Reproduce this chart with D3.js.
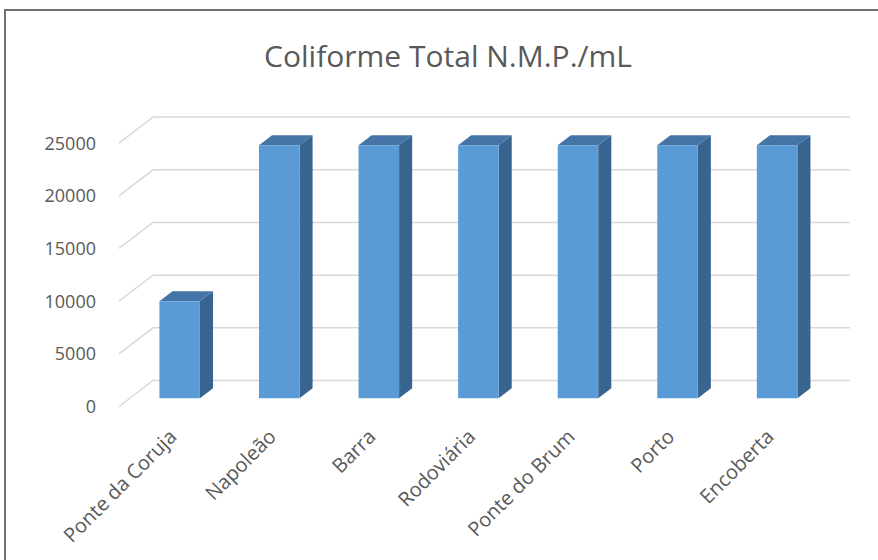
<!DOCTYPE html>
<html>
<head>
<meta charset="utf-8">
<script src="https://cdn.jsdelivr.net/npm/d3@7/dist/d3.min.js"></script>
<style>
  html, body { margin: 0; padding: 0; background: #fff; }
  svg { display: block; }
  text { font-family: "Open Sans", "DejaVu Sans", sans-serif; fill: #595959; }
</style>
</head>
<body>
<svg id="chart" width="878" height="560"></svg>
<script>
// Coliform counts per sampling site
const categories = ["Ponte da Coruja", "Napoleão", "Barra", "Rodoviária", "Ponte do Brum", "Porto", "Encoberta"];
const values = [9200, 24000, 24000, 24000, 24000, 24000, 24000];
const yTicks = [0, 5000, 10000, 15000, 20000, 25000];
const title = "Coliforme Total N.M.P./mL";

const svg = d3.select("#chart");

// chart frame
svg.append("rect")
  .attr("x", 5).attr("y", 10)
  .attr("width", 900).attr("height", 600)
  .attr("fill", "#fff")
  .attr("stroke", "#6f6f6f")
  .attr("stroke-width", 2);

// Oblique 3D projection: the floor front edge sits at (left, floorY),
// depth runs from the front plane (t = 0) to the back wall (t = 1).
const left = 119, plotW = 697, floorY = 406.5, plotH = 263.4;
const depthX = 34, depthY = -26;
const proj = (x, y, t) => [x + depthX * t, y + depthY * t];

const x = d3.scaleBand().domain(categories).range([left, left + plotW])
  .paddingInner(0.593).paddingOuter(0.2965);
const y = d3.scaleLinear().domain([0, 25000]).range([floorY, floorY - plotH]);

// gridlines: side-wall diagonal plus back-wall horizontal
const grid = svg.append("g");
yTicks.forEach(v => {
  const a = proj(left, y(v), 0), b = proj(left, y(v), 1), c = proj(left + plotW, y(v), 1);
  grid.append("path")
    .attr("d", d3.line()([a, b, c]))
    .attr("fill", "none")
    .attr("stroke", "#d9d9d9")
    .attr("stroke-width", 1.5);
});

// y axis labels
svg.append("g").selectAll("text").data(yTicks).join("text")
  .attr("x", 96)
  .attr("y", d => y(d))
  .attr("dy", "0.36em")
  .attr("text-anchor", "end")
  .attr("font-size", 18)
  .text(d => d);

// bars: front face, right side face, top face
const t1 = 0.32, t2 = 0.705;
const bars = svg.append("g");
categories.forEach((c, i) => {
  const x0 = x(c), x1 = x(c) + x.bandwidth();
  const yTop = y(values[i]), yBase = y(0);
  const fTL = proj(x0, yTop, t1), fTR = proj(x1, yTop, t1), fBR = proj(x1, yBase, t1), fBL = proj(x0, yBase, t1);
  const bTL = proj(x0, yTop, t2), bTR = proj(x1, yTop, t2), bBR = proj(x1, yBase, t2);
  bars.append("path").attr("d", d3.line()([fTR, bTR, bBR, fBR]) + "Z").attr("fill", "#386590");
  bars.append("path").attr("d", d3.line()([fTL, bTL, bTR, fTR]) + "Z").attr("fill", "#4475a6");
  bars.append("path").attr("d", d3.line()([fTL, fTR, fBR, fBL]) + "Z").attr("fill", "#5b9bd5");
});

// category labels, rotated
svg.append("g").selectAll("text").data(categories).join("text")
  .attr("text-anchor", "end")
  .attr("font-size", 20)
  .attr("transform", d => `translate(${x(d) + x.bandwidth() / 2 + 9},438) rotate(-45)`)
  .text(d => d);

// title
svg.append("text")
  .attr("x", 448).attr("y", 67)
  .attr("text-anchor", "middle")
  .attr("font-size", 30)
  .text(title);
</script>
</body>
</html>
